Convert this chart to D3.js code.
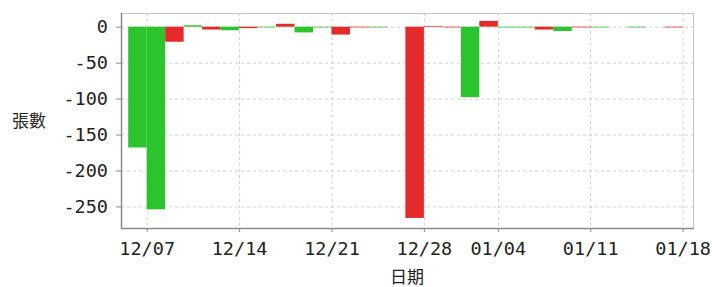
<!DOCTYPE html>
<html>
<head>
<meta charset="utf-8">
<script src="https://cdn.jsdelivr.net/npm/d3@7"></script>
<style>
  body { margin: 0; background: #fff; }
  .tick text { font-family: "DejaVu Sans Mono", monospace; font-size: 18.5px; fill: #222; }
  .lbl { font-family: "Noto Sans CJK TC", sans-serif; font-size: 17px; fill: #222; }
</style>
</head>
<body>
<div id="chart"></div>
<script>
// jours de bourse (les barres)
const dates = ["12/04","12/07","12/08","12/09","12/10","12/11",
  "12/14","12/15","12/16","12/17","12/18",
  "12/21","12/22","12/23","12/24","12/25",
  "12/28","12/29","12/30","12/31",
  "01/04","01/05","01/06","01/07","01/08",
  "01/11","01/12","01/13","01/14","01/15"];
// nombre de lots
const lots = [-168,-254,-21,2,-4,-5,
  -2,-1,4,-8,-1,
  -11,-1,-1,0,-266,
  1,-1,-98,8,
  -1,-1,-4,-6,-1,
  -1,0,-1,0,-1];
// 1 = hausse (rouge), -1 = baisse (vert)
const trend = [-1,-1,1,-1,1,-1,
  1,-1,1,-1,-1,
  1,1,-1,-1,1,
  1,1,-1,1,
  -1,-1,1,-1,1,
  -1,-1,-1,-1,1];
const xTicks = ["12/07","12/14","12/21","12/28","01/04","01/11","01/18"];
const yTicks = [0,-50,-100,-150,-200,-250];

const width = 712, height = 287;
const margin = { top: 13, right: 19, bottom: 59, left: 121 };
const plotLeft = margin.left, plotRight = width - margin.right;
const plotTop = margin.top, plotBottom = height - margin.bottom;

const svg = d3.select("#chart").append("svg")
  .attr("width", width).attr("height", height);

// échelle X : un créneau par jour de bourse, plus 01/18 pour le dernier repère
const step = 18.48;
const domainX = dates.concat(["01/18"]);
const x = d3.scaleBand()
  .domain(domainX)
  .range([plotLeft + 7.2, plotLeft + 7.2 + step * domainX.length])
  .padding(0);

const y = d3.scaleLinear().domain([-280, 19]).range([plotBottom, plotTop]);

// grille
const grid = svg.append("g").attr("stroke", "#cfcfcf").attr("stroke-dasharray", "3,3");
grid.selectAll("line.h").data(yTicks).join("line")
  .attr("class", "h")
  .attr("x1", plotLeft).attr("x2", plotRight)
  .attr("y1", d => y(d) + 0.5).attr("y2", d => y(d) + 0.5);
grid.selectAll("line.v").data(xTicks).join("line")
  .attr("class", "v")
  .attr("x1", d => x(d) + 0.5).attr("x2", d => x(d) + 0.5)
  .attr("y1", plotTop).attr("y2", plotBottom);

// barres
svg.append("g").selectAll("rect")
  .data(dates.map((d, i) => ({ date: d, v: lots[i], t: trend[i] })))
  .join("rect")
  .attr("x", d => x(d.date))
  .attr("width", x.bandwidth())
  .attr("y", d => y(Math.max(0, d.v)))
  .attr("height", d => Math.abs(y(d.v) - y(0)))
  .attr("fill", d => d.t > 0 ? "#e52a2a" : "#2cc42c");

// cadre
svg.append("line").attr("x1", plotLeft).attr("x2", plotRight).attr("y1", plotTop + 0.5).attr("y2", plotTop + 0.5)
  .attr("stroke", "#c4c4c4");
svg.append("line").attr("x1", plotRight + 0.5).attr("x2", plotRight + 0.5).attr("y1", plotTop).attr("y2", plotBottom)
  .attr("stroke", "#c4c4c4");

// axes
const xAxis = d3.axisBottom(x).tickValues(xTicks).tickSize(4).tickPadding(10).tickSizeOuter(0);
const gx = svg.append("g").attr("transform", `translate(0,${plotBottom})`).call(xAxis);
gx.selectAll(".tick").attr("transform", d => `translate(${x(d) + 0.5},0)`);
gx.select(".domain").attr("d", `M${plotLeft},0.5H${plotRight + 1}`);

const yAxis = d3.axisLeft(y).tickValues(yTicks).tickSize(5).tickPadding(8).tickSizeOuter(0)
  .tickFormat(d => d === 0 ? "0" : "-" + Math.abs(d));
const gy = svg.append("g").attr("transform", `translate(${plotLeft},0)`).call(yAxis);
gy.select(".domain").attr("d", `M0.5,${plotTop}V${plotBottom + 0.5}`);

[gx, gy].forEach(g => {
  g.select(".domain").attr("stroke", "#8a8a8a").attr("stroke-width", 1.5);
  g.selectAll(".tick line").attr("stroke", "#8a8a8a");
});

// titres des axes
svg.append("text").attr("class", "lbl").attr("x", 12).attr("y", 127).text("張數");
svg.append("text").attr("class", "lbl").attr("x", (plotLeft + plotRight) / 2).attr("y", 283)
  .attr("text-anchor", "middle").text("日期");
</script>
</body>
</html>
